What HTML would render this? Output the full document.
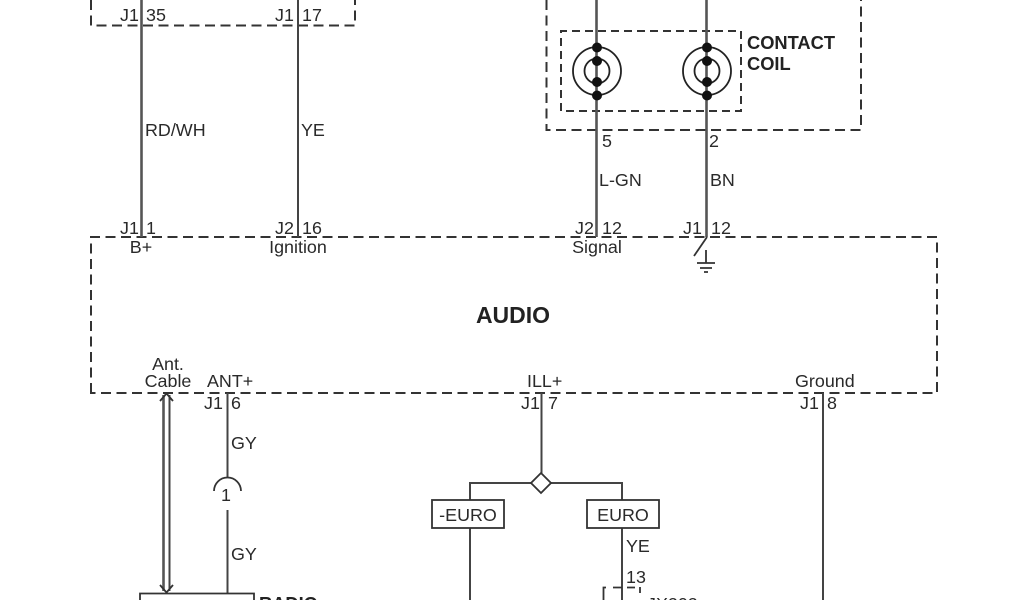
<!DOCTYPE html>
<html>
<head>
<meta charset="utf-8">
<style>
html,body{margin:0;padding:0;background:#fff}
svg{display:block;filter:blur(.35px)}
text{font-family:"Liberation Sans",sans-serif;font-size:17.9px;fill:#2a2a2a}
.b{font-weight:bold;fill:#222;font-size:18.3px}
.m{text-anchor:middle}
.d{fill:none;stroke:#333;stroke-width:2;stroke-dasharray:10 5.5}
.i{fill:none;stroke:#333;stroke-width:2;stroke-dasharray:8 5}
.w{fill:none;stroke:#444;stroke-width:2}
.t{fill:none;stroke:#555;stroke-width:2.6}
.s{fill:none;stroke:#333;stroke-width:1.8}
</style>
</head>
<body>
<svg width="1024" height="600" viewBox="0 0 1024 600" xmlns="http://www.w3.org/2000/svg">
<rect width="1024" height="600" fill="#fff"/>

<!-- dashed boxes -->
<path class="d" d="M91 0V25.500H355V0"/>
<path class="d" d="M546.500 0V130H861V0"/>
<path class="i" d="M561 111V31H741V111Z"/>
<path class="d" d="M91 393V237H937V393Z"/>

<!-- top wires -->
<path class="t" d="M141.500 0V237"/>
<path class="w" d="M298 0V237"/>
<path class="t" d="M596.500 0V237"/>
<path class="t" d="M706.500 0V237"/>

<!-- contact coil -->
<g fill="none" stroke="#222" stroke-width="1.8">
<circle cx="597" cy="71" r="24"/><circle cx="597" cy="71" r="12.500"/>
<circle cx="707" cy="71" r="24"/><circle cx="707" cy="71" r="12.500"/>
</g>
<g fill="#111">
<circle cx="597" cy="47.500" r="5"/><circle cx="597" cy="61" r="5"/><circle cx="597" cy="82" r="5"/><circle cx="597" cy="95.500" r="5"/>
<circle cx="707" cy="47.500" r="5"/><circle cx="707" cy="61" r="5"/><circle cx="707" cy="82" r="5"/><circle cx="707" cy="95.500" r="5"/>
</g>

<!-- ground switch -->
<path class="s" d="M707 237L694 256M706 250V263M697 263H715M700 268H712M704 272H708"/>

<!-- lower wires -->
<path class="w" d="M227.500 393V477M227.500 510V594"/>
<path class="s" d="M214 491A13.500 13.500 0 0 1 241 491"/>
<path class="t" d="M163.500 395V591" stroke-width="2.200"/>
<path class="w" d="M169.500 395V591"/>
<path class="s" d="M160 401L166.500 393.500L173 401M160 585L166.500 592.500L173 585"/>
<path class="s" d="M140 600V593.500H254V600"/>

<path class="w" d="M541.500 393V473M470 500V483H531M551 483H622V500M470 528V600M622 528V600M823 393V600"/>
<path d="M541 473L551 483L541 493L531 483Z" fill="#fff" stroke="#333" stroke-width="1.800"/>
<rect x="432" y="500" width="72" height="28" fill="#fff" stroke="#333" stroke-width="1.800"/>
<rect x="587" y="500" width="72" height="28" fill="#fff" stroke="#333" stroke-width="1.800"/>
<path class="s" d="M603.500 600V587.500H606M613 587.500H622M627 587.500H635M640 587V593"/>

<!-- labels -->
<text x="120" y="21">J1</text><text x="146" y="21">35</text>
<text x="275" y="21">J1</text><text x="302" y="21">17</text>
<text x="145" y="136">RD/WH</text>
<text x="301" y="136">YE</text>
<text x="120" y="234">J1</text><text x="146" y="234">1</text>
<text x="275" y="234">J2</text><text x="302" y="234">16</text>
<text x="141" y="253" class="m">B+</text>
<text x="298" y="253" class="m">Ignition</text>

<text x="747" y="49" class="b">CONTACT</text>
<text x="747" y="70" class="b">COIL</text>
<text x="602" y="147">5</text>
<text x="709" y="147">2</text>
<text x="599" y="186">L-GN</text>
<text x="710" y="186">BN</text>
<text x="575" y="234">J2</text><text x="602" y="234">12</text>
<text x="683" y="234">J1</text><text x="711" y="234">12</text>
<text x="597" y="253" class="m">Signal</text>

<text x="513" y="323" class="b m" style="font-size:23px">AUDIO</text>

<text x="168" y="370" class="m">Ant.</text>
<text x="168" y="387" class="m">Cable</text>
<text x="207" y="387">ANT+</text>
<text x="204" y="409">J1</text><text x="231" y="409">6</text>
<text x="231" y="449">GY</text>
<text x="226" y="501" class="m">1</text>
<text x="231" y="560">GY</text>
<text x="259" y="610" class="b">RADIO</text>

<text x="527" y="387">ILL+</text>
<text x="521" y="409">J1</text><text x="548" y="409">7</text>
<text x="468" y="521" class="m">-EURO</text>
<text x="623" y="521" class="m">EURO</text>
<text x="626" y="552">YE</text>
<text x="626" y="583">13</text>
<text x="647" y="610">JX202</text>

<text x="795" y="387">Ground</text>
<text x="800" y="409">J1</text><text x="827" y="409">8</text>
</svg>
</body>
</html>
